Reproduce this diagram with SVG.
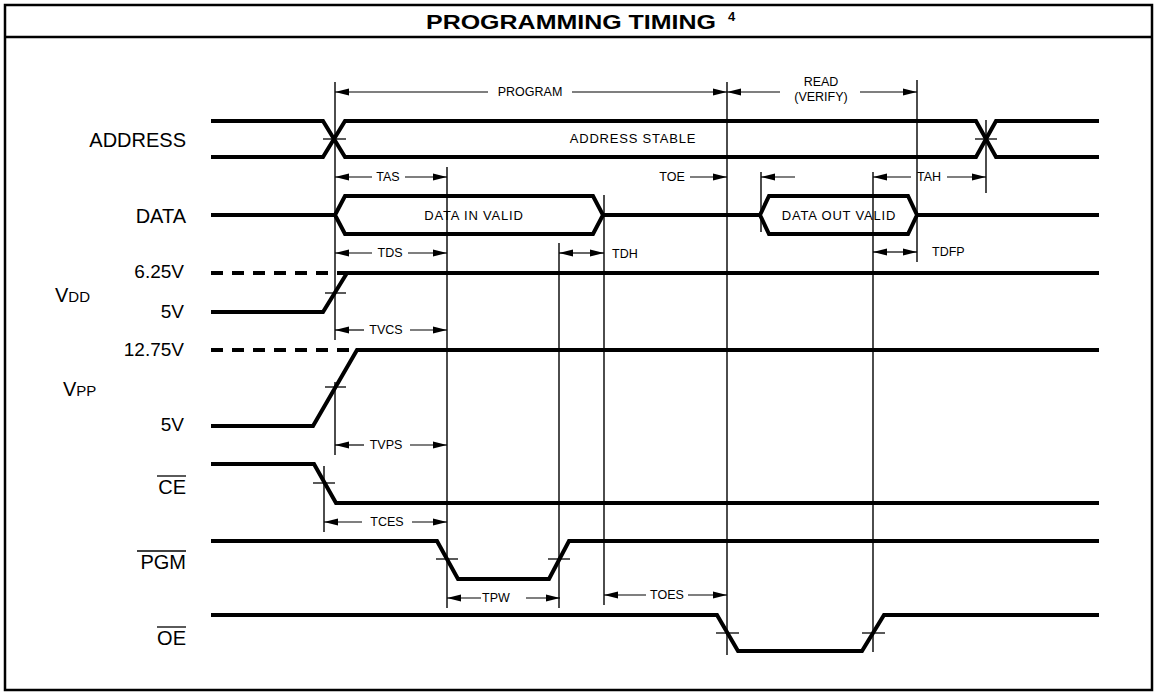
<svg xmlns="http://www.w3.org/2000/svg" width="1156" height="694" viewBox="0 0 1156 694">
<style>
.sig{fill:none;stroke:#000;stroke-width:4;stroke-linejoin:miter}
.dash{fill:none;stroke:#000;stroke-width:4;stroke-dasharray:12 9}
.vl{stroke:#000;stroke-width:1.4;fill:none}
.tk{stroke:#000;stroke-width:1.3;fill:none}
.dim{stroke:#000;stroke-width:1.2;fill:none}
.lab{font-family:"Liberation Sans",Arial,sans-serif;font-size:20px;fill:#000}
.vlab{font-family:"Liberation Sans",Arial,sans-serif;font-size:19px;fill:#000}
.dt{font-family:"Liberation Sans",Arial,sans-serif;font-size:12.5px;fill:#000}
.st{font-family:"Liberation Sans",Arial,sans-serif;font-size:13px;fill:#000;letter-spacing:0.8px}
</style>
<defs>
<marker id="ar" markerUnits="userSpaceOnUse" markerWidth="16" markerHeight="8" refX="14" refY="4" orient="auto-start-reverse">
<path d="M0,0.5 L14,4 L0,7.5 Z" fill="#000"/>
</marker>
</defs>
<rect x="5" y="5" width="1147" height="685" fill="#fff" stroke="#000" stroke-width="2.5"/>
<line x1="5" y1="37" x2="1152" y2="37" stroke="#000" stroke-width="2.5"/>
<g id="title">
<text x="571" y="29" text-anchor="middle" font-family="'Liberation Sans',Arial,sans-serif" font-weight="bold" font-size="21" textLength="290" lengthAdjust="spacingAndGlyphs">PROGRAMMING TIMING</text>
<text x="728" y="21" font-family="'Liberation Sans',Arial,sans-serif" font-weight="bold" font-size="13">4</text>
</g>
<g id="labels">
<text class="lab" x="186" y="147" text-anchor="end">ADDRESS</text>
<text class="lab" x="186" y="223" text-anchor="end">DATA</text>
<text class="vlab" x="184" y="278" text-anchor="end">6.25V</text>
<text class="lab" x="55" y="302">V<tspan font-size="15">DD</tspan></text>
<text class="vlab" x="184" y="318" text-anchor="end">5V</text>
<text class="vlab" x="184" y="356" text-anchor="end">12.75V</text>
<text class="lab" x="63" y="396">V<tspan font-size="15">PP</tspan></text>
<text class="vlab" x="184" y="431" text-anchor="end">5V</text>
<text class="lab" x="186" y="494" text-anchor="end">CE</text>
<line class="tk" x1="157" y1="476" x2="186" y2="476"/>
<text class="lab" x="186" y="569" text-anchor="end">PGM</text>
<line class="tk" x1="137" y1="551" x2="186" y2="551"/>
<text class="lab" x="186" y="645" text-anchor="end">OE</text>
<line class="tk" x1="157" y1="627" x2="186" y2="627"/>
</g>
<g id="signals">
<g id="address">
<path class="sig" d="M211,121 H323 L345,157 H976 L996,121 H1099"/>
<path class="sig" d="M211,157 H323 L345,121 H976 L996,157 H1099"/>
<text class="st" x="633" y="143" text-anchor="middle">ADDRESS STABLE</text>
</g>
<g id="data">
<path class="sig" d="M211,215 H335"/>
<path class="sig" d="M335,215 L345,196 H593 L603,215 L593,234 H345 Z"/>
<path class="sig" d="M603,215 H760"/>
<path class="sig" d="M760,215 L769,196 H908 L917,215 L908,234 H769 Z"/>
<path class="sig" d="M917,215 H1099"/>
<text class="st" x="474" y="220" text-anchor="middle">DATA IN VALID</text>
<text class="st" x="839" y="220" text-anchor="middle">DATA OUT VALID</text>
</g>
<g id="vdd">
<path class="dash" d="M211,273 H347"/>
<path class="sig" d="M211,312 H323 L347,273 H1099"/>
</g>
<g id="vpp">
<path class="dash" d="M211,350 H357"/>
<path class="sig" d="M211,426 H313 L357,350 H1099"/>
</g>
<g id="ce"><path class="sig" d="M211,464 H314 L336,503 H1099"/></g>
<g id="pgm"><path class="sig" d="M211,541 H437 L458,579 H549 L569,541 H1099"/></g>
<g id="oe"><path class="sig" d="M211,615 H717 L738,651 H862 L884,615 H1099"/></g>
</g>
<g id="connectors">
<g id="verticals">
<line class="vl" x1="335" y1="82" x2="335" y2="340"/>
<line class="vl" x1="335" y1="382" x2="335" y2="455"/>
<line class="vl" x1="324" y1="466" x2="324" y2="532"/>
<line class="vl" x1="447" y1="167" x2="447" y2="608"/>
<line class="vl" x1="559" y1="243" x2="559" y2="608"/>
<line class="vl" x1="604" y1="195" x2="604" y2="605"/>
<line class="vl" x1="727" y1="82" x2="727" y2="655"/>
<line class="vl" x1="761" y1="172" x2="761" y2="232"/>
<line class="vl" x1="873" y1="172" x2="873" y2="652"/>
<line class="vl" x1="917" y1="80" x2="917" y2="262"/>
<line class="vl" x1="986" y1="120" x2="986" y2="193"/>
</g>
<g id="ticks">
<line class="tk" x1="323" y1="139" x2="346" y2="139"/>
<line class="tk" x1="975" y1="139" x2="997" y2="139"/>
<line class="tk" x1="325" y1="293" x2="346" y2="293"/>
<line class="tk" x1="325" y1="387" x2="346" y2="387"/>
<line class="tk" x1="313" y1="483" x2="335" y2="483"/>
<line class="tk" x1="436" y1="559" x2="458" y2="559"/>
<line class="tk" x1="548" y1="559" x2="570" y2="559"/>
<line class="tk" x1="716" y1="633" x2="739" y2="633"/>
<line class="tk" x1="862" y1="633" x2="885" y2="633"/>
</g>
<g id="dims">
<line class="dim" x1="335" y1="92" x2="488" y2="92" marker-start="url(#ar)"/>
<text class="dt" x="530" y="96" text-anchor="middle">PROGRAM</text>
<line class="dim" x1="572" y1="92" x2="727" y2="92" marker-end="url(#ar)"/>
<line class="dim" x1="727" y1="92" x2="780" y2="92" marker-start="url(#ar)"/>
<text class="dt" x="821" y="86" text-anchor="middle">READ</text>
<text class="dt" x="821" y="101" text-anchor="middle">(VERIFY)</text>
<line class="dim" x1="860" y1="92" x2="917" y2="92" marker-end="url(#ar)"/>

<line class="dim" x1="335" y1="177" x2="372" y2="177" marker-start="url(#ar)"/>
<text class="dt" x="388" y="181" text-anchor="middle">TAS</text>
<line class="dim" x1="405" y1="177" x2="447" y2="177" marker-end="url(#ar)"/>
<text class="dt" x="672" y="181" text-anchor="middle">TOE</text>
<line class="dim" x1="690" y1="177" x2="727" y2="177" marker-end="url(#ar)"/>
<line class="dim" x1="761" y1="177" x2="795" y2="177" marker-start="url(#ar)"/>
<line class="dim" x1="873" y1="177" x2="911" y2="177" marker-start="url(#ar)"/>
<text class="dt" x="929" y="181" text-anchor="middle">TAH</text>
<line class="dim" x1="947" y1="177" x2="986" y2="177" marker-end="url(#ar)"/>

<line class="dim" x1="335" y1="253" x2="372" y2="253" marker-start="url(#ar)"/>
<text class="dt" x="390" y="257" text-anchor="middle">TDS</text>
<line class="dim" x1="408" y1="253" x2="447" y2="253" marker-end="url(#ar)"/>
<line class="dim" x1="559" y1="253" x2="581" y2="253" marker-start="url(#ar)"/>
<line class="dim" x1="581" y1="253" x2="604" y2="253" marker-end="url(#ar)"/>
<text class="dt" x="612" y="258">TDH</text>
<line class="dim" x1="873" y1="252" x2="895" y2="252" marker-start="url(#ar)"/>
<line class="dim" x1="895" y1="252" x2="917" y2="252" marker-end="url(#ar)"/>
<text class="dt" x="932" y="256">TDFP</text>

<line class="dim" x1="335" y1="330" x2="364" y2="330" marker-start="url(#ar)"/>
<text class="dt" x="386" y="334" text-anchor="middle">TVCS</text>
<line class="dim" x1="410" y1="330" x2="447" y2="330" marker-end="url(#ar)"/>
<line class="dim" x1="335" y1="445" x2="364" y2="445" marker-start="url(#ar)"/>
<text class="dt" x="386" y="449" text-anchor="middle">TVPS</text>
<line class="dim" x1="410" y1="445" x2="447" y2="445" marker-end="url(#ar)"/>
<line class="dim" x1="324" y1="522" x2="362" y2="522" marker-start="url(#ar)"/>
<text class="dt" x="387" y="526" text-anchor="middle">TCES</text>
<line class="dim" x1="412" y1="522" x2="447" y2="522" marker-end="url(#ar)"/>
<line class="dim" x1="447" y1="598" x2="481" y2="598" marker-start="url(#ar)"/>
<text class="dt" x="496" y="602" text-anchor="middle">TPW</text>
<line class="dim" x1="526" y1="598" x2="560" y2="598" marker-end="url(#ar)"/>
<line class="dim" x1="604" y1="595" x2="646" y2="595" marker-start="url(#ar)"/>
<text class="dt" x="667" y="599" text-anchor="middle">TOES</text>
<line class="dim" x1="688" y1="595" x2="727" y2="595" marker-end="url(#ar)"/>
</g>
</g>
</svg>
